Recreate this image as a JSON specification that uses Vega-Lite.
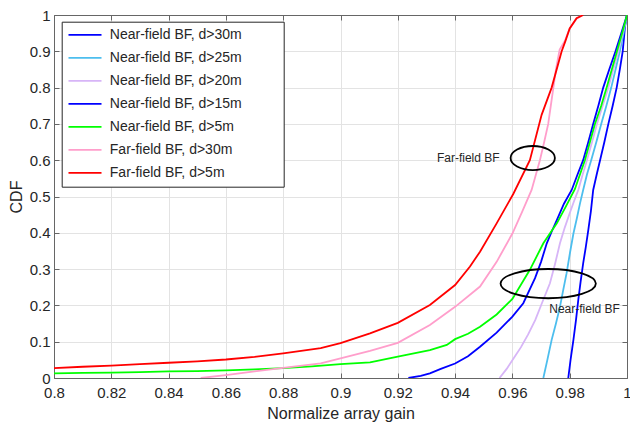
{
  "$schema": "https://vega.github.io/schema/vega-lite/v6.json",
  "width": 573,
  "height": 363,
  "autosize": {"type": "none"},
  "padding": {"left": 54, "top": 15, "right": 3, "bottom": 45},
  "background": "white",
  "config": {
    "font": "Liberation Sans",
    "view": {"stroke": null},
    "axis": {
      "labelFont": "Liberation Sans",
      "titleFont": "Liberation Sans",
      "labelFontSize": 15,
      "titleFontSize": 16,
      "labelColor": "#262626",
      "titleColor": "#262626",
      "titleFontWeight": "normal",
      "domainColor": "#666666",
      "tickColor": "#666666",
      "gridColor": "#e3e3e3",
      "labelFlush": false,
      "labelOverlap": false
    }
  },
  "datasets": {
    "cdf": [
      {"series": "Near-field BF, d>30m", "x": 0.9795, "y": 0},
      {"series": "Near-field BF, d>30m", "x": 0.9803, "y": 0.05},
      {"series": "Near-field BF, d>30m", "x": 0.9813, "y": 0.105},
      {"series": "Near-field BF, d>30m", "x": 0.9822, "y": 0.16},
      {"series": "Near-field BF, d>30m", "x": 0.983, "y": 0.215},
      {"series": "Near-field BF, d>30m", "x": 0.9838, "y": 0.265},
      {"series": "Near-field BF, d>30m", "x": 0.9847, "y": 0.316},
      {"series": "Near-field BF, d>30m", "x": 0.9856, "y": 0.36},
      {"series": "Near-field BF, d>30m", "x": 0.9865, "y": 0.408},
      {"series": "Near-field BF, d>30m", "x": 0.9874, "y": 0.46},
      {"series": "Near-field BF, d>30m", "x": 0.9882, "y": 0.518},
      {"series": "Near-field BF, d>30m", "x": 0.9894, "y": 0.56},
      {"series": "Near-field BF, d>30m", "x": 0.9906, "y": 0.6},
      {"series": "Near-field BF, d>30m", "x": 0.9921, "y": 0.65},
      {"series": "Near-field BF, d>30m", "x": 0.9935, "y": 0.7},
      {"series": "Near-field BF, d>30m", "x": 0.995, "y": 0.75},
      {"series": "Near-field BF, d>30m", "x": 0.9964, "y": 0.8},
      {"series": "Near-field BF, d>30m", "x": 0.9975, "y": 0.85},
      {"series": "Near-field BF, d>30m", "x": 0.9985, "y": 0.9},
      {"series": "Near-field BF, d>30m", "x": 0.9993, "y": 0.968},
      {"series": "Near-field BF, d>30m", "x": 1.0, "y": 1.0},

      {"series": "Near-field BF, d>25m", "x": 0.9708, "y": 0},
      {"series": "Near-field BF, d>25m", "x": 0.9722, "y": 0.05},
      {"series": "Near-field BF, d>25m", "x": 0.9737, "y": 0.105},
      {"series": "Near-field BF, d>25m", "x": 0.9752, "y": 0.15},
      {"series": "Near-field BF, d>25m", "x": 0.9766, "y": 0.196},
      {"series": "Near-field BF, d>25m", "x": 0.9778, "y": 0.245},
      {"series": "Near-field BF, d>25m", "x": 0.9789, "y": 0.288},
      {"series": "Near-field BF, d>25m", "x": 0.9801, "y": 0.345},
      {"series": "Near-field BF, d>25m", "x": 0.9813, "y": 0.398},
      {"series": "Near-field BF, d>25m", "x": 0.9825, "y": 0.44},
      {"series": "Near-field BF, d>25m", "x": 0.9836, "y": 0.481},
      {"series": "Near-field BF, d>25m", "x": 0.9847, "y": 0.518},
      {"series": "Near-field BF, d>25m", "x": 0.986, "y": 0.56},
      {"series": "Near-field BF, d>25m", "x": 0.9875, "y": 0.6},
      {"series": "Near-field BF, d>25m", "x": 0.9893, "y": 0.65},
      {"series": "Near-field BF, d>25m", "x": 0.991, "y": 0.7},
      {"series": "Near-field BF, d>25m", "x": 0.9928, "y": 0.75},
      {"series": "Near-field BF, d>25m", "x": 0.9945, "y": 0.8},
      {"series": "Near-field BF, d>25m", "x": 0.996, "y": 0.85},
      {"series": "Near-field BF, d>25m", "x": 0.9975, "y": 0.9},
      {"series": "Near-field BF, d>25m", "x": 0.9988, "y": 0.95},
      {"series": "Near-field BF, d>25m", "x": 1.0, "y": 1.0},

      {"series": "Near-field BF, d>20m", "x": 0.9555, "y": 0},
      {"series": "Near-field BF, d>20m", "x": 0.958, "y": 0.025},
      {"series": "Near-field BF, d>20m", "x": 0.9605, "y": 0.055},
      {"series": "Near-field BF, d>20m", "x": 0.963, "y": 0.085},
      {"series": "Near-field BF, d>20m", "x": 0.9655, "y": 0.12},
      {"series": "Near-field BF, d>20m", "x": 0.968, "y": 0.16},
      {"series": "Near-field BF, d>20m", "x": 0.9705, "y": 0.21},
      {"series": "Near-field BF, d>20m", "x": 0.9731, "y": 0.261},
      {"series": "Near-field BF, d>20m", "x": 0.9749, "y": 0.315},
      {"series": "Near-field BF, d>20m", "x": 0.9766, "y": 0.371},
      {"series": "Near-field BF, d>20m", "x": 0.9783, "y": 0.415},
      {"series": "Near-field BF, d>20m", "x": 0.98, "y": 0.454},
      {"series": "Near-field BF, d>20m", "x": 0.9815, "y": 0.487},
      {"series": "Near-field BF, d>20m", "x": 0.983, "y": 0.518},
      {"series": "Near-field BF, d>20m", "x": 0.9845, "y": 0.56},
      {"series": "Near-field BF, d>20m", "x": 0.986, "y": 0.6},
      {"series": "Near-field BF, d>20m", "x": 0.9878, "y": 0.65},
      {"series": "Near-field BF, d>20m", "x": 0.9895, "y": 0.7},
      {"series": "Near-field BF, d>20m", "x": 0.9915, "y": 0.75},
      {"series": "Near-field BF, d>20m", "x": 0.9935, "y": 0.8},
      {"series": "Near-field BF, d>20m", "x": 0.9952, "y": 0.85},
      {"series": "Near-field BF, d>20m", "x": 0.997, "y": 0.9},
      {"series": "Near-field BF, d>20m", "x": 0.9985, "y": 0.95},
      {"series": "Near-field BF, d>20m", "x": 1.0, "y": 1.0},

      {"series": "Near-field BF, d>15m", "x": 0.9237, "y": 0},
      {"series": "Near-field BF, d>15m", "x": 0.928, "y": 0.006},
      {"series": "Near-field BF, d>15m", "x": 0.9312, "y": 0.013},
      {"series": "Near-field BF, d>15m", "x": 0.935, "y": 0.025},
      {"series": "Near-field BF, d>15m", "x": 0.94, "y": 0.04},
      {"series": "Near-field BF, d>15m", "x": 0.9445, "y": 0.06},
      {"series": "Near-field BF, d>15m", "x": 0.9487, "y": 0.086},
      {"series": "Near-field BF, d>15m", "x": 0.9545, "y": 0.125},
      {"series": "Near-field BF, d>15m", "x": 0.96, "y": 0.169},
      {"series": "Near-field BF, d>15m", "x": 0.9638, "y": 0.206},
      {"series": "Near-field BF, d>15m", "x": 0.9679, "y": 0.275},
      {"series": "Near-field BF, d>15m", "x": 0.97, "y": 0.32},
      {"series": "Near-field BF, d>15m", "x": 0.972, "y": 0.371},
      {"series": "Near-field BF, d>15m", "x": 0.9738, "y": 0.405},
      {"series": "Near-field BF, d>15m", "x": 0.9755, "y": 0.435},
      {"series": "Near-field BF, d>15m", "x": 0.978, "y": 0.48},
      {"series": "Near-field BF, d>15m", "x": 0.9807, "y": 0.518},
      {"series": "Near-field BF, d>15m", "x": 0.9827, "y": 0.56},
      {"series": "Near-field BF, d>15m", "x": 0.9847, "y": 0.6},
      {"series": "Near-field BF, d>15m", "x": 0.9865, "y": 0.65},
      {"series": "Near-field BF, d>15m", "x": 0.9882, "y": 0.7},
      {"series": "Near-field BF, d>15m", "x": 0.99, "y": 0.75},
      {"series": "Near-field BF, d>15m", "x": 0.9917, "y": 0.8},
      {"series": "Near-field BF, d>15m", "x": 0.9938, "y": 0.85},
      {"series": "Near-field BF, d>15m", "x": 0.996, "y": 0.9},
      {"series": "Near-field BF, d>15m", "x": 0.998, "y": 0.95},
      {"series": "Near-field BF, d>15m", "x": 1.0, "y": 1.0},

      {"series": "Near-field BF, d>5m", "x": 0.8, "y": 0.013},
      {"series": "Near-field BF, d>5m", "x": 0.81, "y": 0.014},
      {"series": "Near-field BF, d>5m", "x": 0.82, "y": 0.015},
      {"series": "Near-field BF, d>5m", "x": 0.83, "y": 0.016},
      {"series": "Near-field BF, d>5m", "x": 0.84, "y": 0.018},
      {"series": "Near-field BF, d>5m", "x": 0.85, "y": 0.019},
      {"series": "Near-field BF, d>5m", "x": 0.86, "y": 0.021},
      {"series": "Near-field BF, d>5m", "x": 0.87, "y": 0.024},
      {"series": "Near-field BF, d>5m", "x": 0.88, "y": 0.027},
      {"series": "Near-field BF, d>5m", "x": 0.89, "y": 0.032},
      {"series": "Near-field BF, d>5m", "x": 0.9, "y": 0.038},
      {"series": "Near-field BF, d>5m", "x": 0.9103, "y": 0.043},
      {"series": "Near-field BF, d>5m", "x": 0.92, "y": 0.059},
      {"series": "Near-field BF, d>5m", "x": 0.9312, "y": 0.077},
      {"series": "Near-field BF, d>5m", "x": 0.9371, "y": 0.091},
      {"series": "Near-field BF, d>5m", "x": 0.94, "y": 0.107},
      {"series": "Near-field BF, d>5m", "x": 0.9445, "y": 0.122},
      {"series": "Near-field BF, d>5m", "x": 0.9487, "y": 0.141},
      {"series": "Near-field BF, d>5m", "x": 0.9545, "y": 0.175},
      {"series": "Near-field BF, d>5m", "x": 0.96, "y": 0.218},
      {"series": "Near-field BF, d>5m", "x": 0.9661, "y": 0.298},
      {"series": "Near-field BF, d>5m", "x": 0.9708, "y": 0.371},
      {"series": "Near-field BF, d>5m", "x": 0.9755, "y": 0.426},
      {"series": "Near-field BF, d>5m", "x": 0.9785, "y": 0.47},
      {"series": "Near-field BF, d>5m", "x": 0.9818, "y": 0.52},
      {"series": "Near-field BF, d>5m", "x": 0.9853, "y": 0.6},
      {"series": "Near-field BF, d>5m", "x": 0.9888, "y": 0.7},
      {"series": "Near-field BF, d>5m", "x": 0.991, "y": 0.75},
      {"series": "Near-field BF, d>5m", "x": 0.9929, "y": 0.8},
      {"series": "Near-field BF, d>5m", "x": 0.9947, "y": 0.85},
      {"series": "Near-field BF, d>5m", "x": 0.9965, "y": 0.9},
      {"series": "Near-field BF, d>5m", "x": 0.9983, "y": 0.95},
      {"series": "Near-field BF, d>5m", "x": 1.0, "y": 1.0},

      {"series": "Far-field BF, d>30m", "x": 0.8512, "y": 0},
      {"series": "Far-field BF, d>30m", "x": 0.86, "y": 0.008},
      {"series": "Far-field BF, d>30m", "x": 0.87, "y": 0.018},
      {"series": "Far-field BF, d>30m", "x": 0.88, "y": 0.028},
      {"series": "Far-field BF, d>30m", "x": 0.8931, "y": 0.04},
      {"series": "Far-field BF, d>30m", "x": 0.9, "y": 0.054},
      {"series": "Far-field BF, d>30m", "x": 0.9103, "y": 0.075},
      {"series": "Far-field BF, d>30m", "x": 0.92, "y": 0.097},
      {"series": "Far-field BF, d>30m", "x": 0.9312, "y": 0.146},
      {"series": "Far-field BF, d>30m", "x": 0.94, "y": 0.196},
      {"series": "Far-field BF, d>30m", "x": 0.9487, "y": 0.252},
      {"series": "Far-field BF, d>30m", "x": 0.9545, "y": 0.32},
      {"series": "Far-field BF, d>30m", "x": 0.96, "y": 0.398},
      {"series": "Far-field BF, d>30m", "x": 0.9635, "y": 0.46},
      {"series": "Far-field BF, d>30m", "x": 0.9667, "y": 0.518},
      {"series": "Far-field BF, d>30m", "x": 0.9696, "y": 0.6},
      {"series": "Far-field BF, d>30m", "x": 0.9711, "y": 0.65},
      {"series": "Far-field BF, d>30m", "x": 0.9725, "y": 0.7},
      {"series": "Far-field BF, d>30m", "x": 0.9734, "y": 0.75},
      {"series": "Far-field BF, d>30m", "x": 0.9743, "y": 0.8},
      {"series": "Far-field BF, d>30m", "x": 0.9752, "y": 0.85},
      {"series": "Far-field BF, d>30m", "x": 0.9765, "y": 0.905},
      {"series": "Far-field BF, d>30m", "x": 0.9784, "y": 0.93},
      {"series": "Far-field BF, d>30m", "x": 0.98, "y": 0.963},
      {"series": "Far-field BF, d>30m", "x": 0.9824, "y": 0.99},
      {"series": "Far-field BF, d>30m", "x": 0.9845, "y": 1.0},

      {"series": "Far-field BF, d>5m", "x": 0.8, "y": 0.027},
      {"series": "Far-field BF, d>5m", "x": 0.81, "y": 0.031},
      {"series": "Far-field BF, d>5m", "x": 0.82, "y": 0.034},
      {"series": "Far-field BF, d>5m", "x": 0.83, "y": 0.038},
      {"series": "Far-field BF, d>5m", "x": 0.84, "y": 0.042},
      {"series": "Far-field BF, d>5m", "x": 0.85, "y": 0.046},
      {"series": "Far-field BF, d>5m", "x": 0.86, "y": 0.051},
      {"series": "Far-field BF, d>5m", "x": 0.87, "y": 0.058},
      {"series": "Far-field BF, d>5m", "x": 0.88, "y": 0.068},
      {"series": "Far-field BF, d>5m", "x": 0.8931, "y": 0.082},
      {"series": "Far-field BF, d>5m", "x": 0.9, "y": 0.096},
      {"series": "Far-field BF, d>5m", "x": 0.9103, "y": 0.123},
      {"series": "Far-field BF, d>5m", "x": 0.92, "y": 0.152},
      {"series": "Far-field BF, d>5m", "x": 0.9312, "y": 0.201},
      {"series": "Far-field BF, d>5m", "x": 0.94, "y": 0.256},
      {"series": "Far-field BF, d>5m", "x": 0.9452, "y": 0.307},
      {"series": "Far-field BF, d>5m", "x": 0.9487, "y": 0.348},
      {"series": "Far-field BF, d>5m", "x": 0.9545, "y": 0.426},
      {"series": "Far-field BF, d>5m", "x": 0.9603, "y": 0.507},
      {"series": "Far-field BF, d>5m", "x": 0.9661, "y": 0.6},
      {"series": "Far-field BF, d>5m", "x": 0.9702, "y": 0.725},
      {"series": "Far-field BF, d>5m", "x": 0.9737, "y": 0.8},
      {"series": "Far-field BF, d>5m", "x": 0.9772, "y": 0.9},
      {"series": "Far-field BF, d>5m", "x": 0.9784, "y": 0.926},
      {"series": "Far-field BF, d>5m", "x": 0.98, "y": 0.963},
      {"series": "Far-field BF, d>5m", "x": 0.9824, "y": 0.991},
      {"series": "Far-field BF, d>5m", "x": 0.9847, "y": 1.0}
    ],
    "labels": [
      {"label": "Far-field BF", "x": 0.9446, "y": 0.606},
      {"label": "Near-field BF", "x": 0.9852, "y": 0.189}
    ],
    "farEllipse": [{"group": "Far-field BF", "x": 0.9671, "y": 0.606}],
    "nearEllipse": [{"group": "Near-field BF", "x": 0.9725, "y": 0.26}]
  },
  "layer": [
    {
      "data": {"name": "cdf"},
      "mark": {"type": "line", "strokeWidth": 1.8, "clip": true},
      "encoding": {
        "x": {
          "field": "x", "type": "quantitative",
          "scale": {"domain": [0.8, 1], "nice": false, "zero": false},
          "axis": {
            "orient": "bottom",
            "title": "Normalize array gain",
            "values": [0.8, 0.82, 0.84, 0.86, 0.88, 0.9, 0.92, 0.94, 0.96, 0.98, 1],
            "format": "~g",
            "grid": true,
            "tickSize": -5,
            "labelPadding": 12.5,
            "titlePadding": 4.5
          }
        },
        "y": {
          "field": "y", "type": "quantitative",
          "scale": {"domain": [0, 1], "nice": false},
          "axis": {
            "orient": "left",
            "title": "CDF",
            "values": [0, 0.1, 0.2, 0.3, 0.4, 0.5, 0.6, 0.7, 0.8, 0.9, 1],
            "format": "~g",
            "grid": true,
            "tickSize": -5,
            "labelPadding": 9,
            "titlePadding": 5
          }
        },
        "color": {
          "field": "series", "type": "nominal",
          "scale": {
            "domain": ["Near-field BF, d>30m", "Near-field BF, d>25m", "Near-field BF, d>20m", "Near-field BF, d>15m", "Near-field BF, d>5m", "Far-field BF, d>30m", "Far-field BF, d>5m"],
            "range": ["#0000FF", "#4DBEEE", "#D7B5F7", "#0000FF", "#00FF00", "#FF9ECB", "#FF0000"]
          },
          "legend": {
            "orient": "none",
            "legendX": 7.7,
            "legendY": 6.7,
            "title": " ",
            "titleOrient": "right",
            "titlePadding": 40,
            "symbolType": "stroke",
            "symbolSize": 1089,
            "symbolStrokeWidth": 1.8,
            "symbolOffset": 3.8,
            "labelOffset": 7.3,
            "labelFontSize": 14,
            "labelColor": "#262626",
            "labelFont": "Liberation Sans",
            "clipHeight": 22.3,
            "rowPadding": 0,
            "padding": 2,
            "strokeColor": "#262626",
            "fillColor": "white",
            "cornerRadius": 0
          }
        }
      }
    },
    {
      "data": {"name": "farEllipse"},
      "mark": {
        "type": "point", "filled": false, "stroke": "black", "strokeWidth": 1.8, "opacity": 1,
        "shape": "M-1,0C-1,-0.2993 -0.5523,-0.542 0,-0.542C0.5523,-0.542 1,-0.2993 1,0C1,0.2993 0.5523,0.542 0,0.542C-0.5523,0.542 -1,0.2993 -1,0Z",
        "size": 1962
      },
      "encoding": {
        "x": {"field": "x", "type": "quantitative", "axis": null},
        "y": {"field": "y", "type": "quantitative", "axis": null}
      }
    },
    {
      "data": {"name": "nearEllipse"},
      "mark": {
        "type": "point", "filled": false, "stroke": "black", "strokeWidth": 1.8, "opacity": 1,
        "shape": "M-1,0C-1,-0.1696 -0.5523,-0.307 0,-0.307C0.5523,-0.307 1,-0.1696 1,0C1,0.1696 0.5523,0.307 0,0.307C-0.5523,0.307 -1,0.1696 -1,0Z",
        "size": 9082
      },
      "encoding": {
        "x": {"field": "x", "type": "quantitative", "axis": null},
        "y": {"field": "y", "type": "quantitative", "axis": null}
      }
    },
    {
      "data": {"name": "labels"},
      "mark": {"type": "text", "font": "Liberation Sans", "fontSize": 12, "color": "#262626", "align": "center", "baseline": "middle"},
      "encoding": {
        "x": {
          "field": "x", "type": "quantitative",
          "axis": {
            "orient": "top", "title": null, "labels": false, "grid": false,
            "values": [0.8, 0.82, 0.84, 0.86, 0.88, 0.9, 0.92, 0.94, 0.96, 0.98, 1],
            "tickSize": -5
          }
        },
        "y": {
          "field": "y", "type": "quantitative",
          "axis": {
            "orient": "right", "title": null, "labels": false, "grid": false,
            "values": [0, 0.1, 0.2, 0.3, 0.4, 0.5, 0.6, 0.7, 0.8, 0.9, 1],
            "tickSize": -5
          }
        },
        "text": {"field": "label"}
      }
    }
  ],
  "resolve": {"axis": {"x": "independent", "y": "independent"}}
}
